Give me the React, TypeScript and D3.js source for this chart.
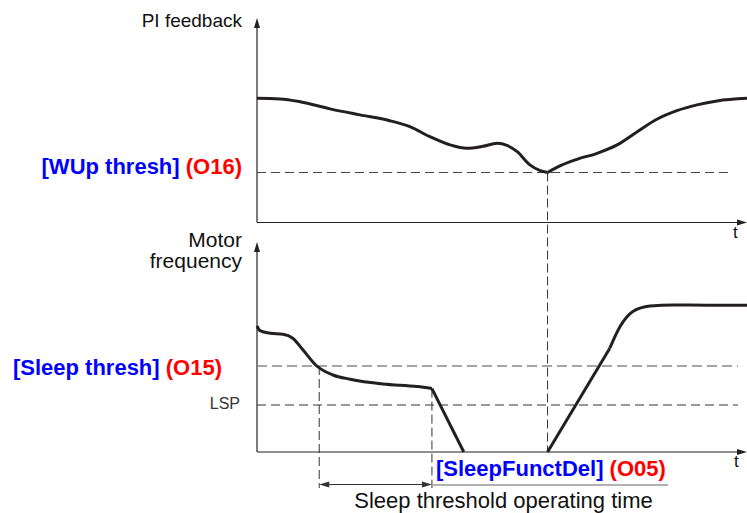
import * as d3 from "d3";

// PI feedback curve (time in % of window, value in % of panel height)
const piTime = [0, 4.7, 8.8, 14.9, 21.0, 27.1, 31.2, 35.3, 39.4, 42.8, 46.1, 49.0, 51.0, 53.1, 55.7, 57.8, 59.3, 61.2, 65.3, 69.4, 73.5, 77.6, 81.6, 85.7, 89.8, 93.9, 100];
const piValue = [62.1, 61.8, 60.4, 56.8, 53.8, 50.9, 47.9, 42.9, 38.8, 37.1, 38.1, 39.6, 38.6, 35.4, 28.8, 25.9, 25, 27.6, 31.6, 34.6, 38.8, 45.4, 51.6, 55.9, 58.8, 60.8, 62.1];

// motor frequency curve
const freqTime = [0, 0.6, 2.7, 5.3, 7.3, 9.4, 12.2, 15.5, 19.0, 25.7, 32.7, 35.7, 42.2, 59.3, 72.0, 74.1, 76.7, 80.2, 84.9, 91.8, 100];
const freqValue = [63, 60.7, 59.4, 58.9, 56.9, 51, 43, 38.5, 36.4, 34, 32.7, 31.7, 0, 0, 51.9, 62.7, 70.2, 73, 73.5, 73.4, 73.4];

const wakeThreshold = 25;
const sleepThreshold = 43;
const lspLevel = 23.5;
const sleepCrossTime = 12.7;
const rampDownTime = 35.7;
const stopTime = 42.2;
const wakeTime = 59.3;
const rampUpEndTime = 72.0;

const W = 747;
const H = 513;
const FONT = "'Liberation Sans', Arial, sans-serif";
const INK = "#231f20";
const BLUE = "#0000ff";
const RED = "#ff0000";

type Pt = [number, number];

export default function App() {
  const x = d3.scaleLinear().domain([0, 100]).range([257, 747]);
  const yTop = d3.scaleLinear().domain([0, 100]).range([222.5, 22.5]);
  const yBot = d3.scaleLinear().domain([0, 100]).range([452, 252]);

  const piPts: Pt[] = piTime.map((t, i) => [t, piValue[i]]);
  const freqPts: Pt[] = freqTime.map((t, i) => [t, freqValue[i]]);
  const pick = (pts: Pt[], a: number, b: number) => pts.filter(p => p[0] >= a && p[0] <= b);

  const topLine = d3.line<Pt>().x(d => x(d[0])).y(d => yTop(d[1])).curve(d3.curveMonotoneX);
  const botSmooth = d3.line<Pt>().x(d => x(d[0])).y(d => yBot(d[1])).curve(d3.curveMonotoneX);
  const botLinear = d3.line<Pt>().x(d => x(d[0])).y(d => yBot(d[1]));

  const piSegments = [pick(piPts, 0, wakeTime), pick(piPts, wakeTime, 100)].map(s => topLine(s));
  const freqSegments = [
    botSmooth(pick(freqPts, 0, rampDownTime)),
    botLinear(pick(freqPts, rampDownTime, stopTime)),
    botLinear(pick(freqPts, wakeTime, rampUpEndTime)),
    botSmooth(pick(freqPts, rampUpEndTime, 100)),
  ];

  const x0 = x(0);
  const topAxisY = yTop(0);
  const botAxisY = yBot(0);
  const upArrow = (ax: number, ay: number) => `M${ax},${ay}L${ax - 3},${ay + 10}L${ax + 3},${ay + 10}Z`;
  const rightArrow = (ax: number, ay: number) => `M${ax},${ay}L${ax - 10},${ay - 3}L${ax - 10},${ay + 3}Z`;
  const leftArrow = (ax: number, ay: number) => `M${ax},${ay}L${ax + 10},${ay - 3}L${ax + 10},${ay + 3}Z`;

  const xSleep = x(sleepCrossTime);
  const xRamp = x(rampDownTime);
  const xWake = x(wakeTime);
  const rampY = yBot(freqValue[freqTime.indexOf(rampDownTime)]);
  const spanY = 484.5;

  return (
    <svg width={W} height={H} style={{ position: "absolute", left: 0, top: 0, background: "#fff" }} fontFamily={FONT}>
      {/* axes */}
      <g stroke="#222" strokeWidth={1.2} fill="none">
        <line x1={x0} x2={x0} y1={topAxisY} y2={25} />
        <line x1={x0} x2={740} y1={topAxisY} y2={topAxisY} />
        <line x1={x0} x2={x0} y1={botAxisY} y2={249} />
        <line x1={x0} x2={740} y1={botAxisY} y2={botAxisY} />
      </g>
      <g fill="#222">
        <path d={upArrow(x0, 18)} />
        <path d={rightArrow(747, topAxisY)} />
        <path d={upArrow(x0, 242)} />
        <path d={rightArrow(747, botAxisY)} />
      </g>

      {/* threshold lines */}
      <line x1={x0} x2={733} y1={yTop(wakeThreshold)} y2={yTop(wakeThreshold)} stroke="#444" strokeWidth={1} strokeDasharray="9 5" />
      <line x1={x0} x2={738} y1={yBot(sleepThreshold)} y2={yBot(sleepThreshold)} stroke="#888" strokeWidth={1.3} strokeDasharray="10 5" />
      <line x1={x0} x2={738} y1={yBot(lspLevel)} y2={yBot(lspLevel)} stroke="#333" strokeWidth={1} strokeDasharray="9 5" />

      {/* event markers */}
      <g stroke="#333" strokeWidth={1} strokeDasharray="9 4">
        <line x1={xWake} x2={xWake} y1={yTop(wakeThreshold)} y2={botAxisY} />
        <line x1={xSleep} x2={xSleep} y1={yBot(sleepThreshold)} y2={488} />
        <line x1={xRamp} x2={xRamp} y1={rampY} y2={488} />
      </g>
      <line x1={xSleep + 8} x2={xRamp - 8} y1={spanY} y2={spanY} stroke="#333" strokeWidth={1} />
      <path d={leftArrow(xSleep, spanY)} fill="#333" />
      <path d={rightArrow(xRamp, spanY)} fill="#333" />
      <line x1={xRamp} x2={668} y1={485} y2={485} stroke="#999" strokeWidth={1.5} />

      {/* curves */}
      <g stroke={INK} strokeWidth={3} fill="none" strokeLinejoin="round">
        {piSegments.map((d, i) => <path key={"pi" + i} d={d ?? ""} />)}
        {freqSegments.map((d, i) => <path key={"f" + i} d={d ?? ""} />)}
      </g>

      {/* labels */}
      <g fill="#111" fontSize={21}>
        <text x={242} y={27} textAnchor="end" fontSize={19}>PI feedback</text>
        <text x={242} y={247} textAnchor="end">Motor</text>
        <text x={242} y={268} textAnchor="end">frequency</text>
        <text x={733} y={238} fontSize={17}>t</text>
        <text x={734} y={467} fontSize={17}>t</text>
        <text x={240} y={409} textAnchor="end" fontSize={16} fill="#333">LSP</text>
        <text x={503.5} y={508} textAnchor="middle" fontSize={22}>Sleep threshold operating time</text>
      </g>
      <g fontSize={22} fontWeight="bold">
        <text x={242} y={174} textAnchor="end">
          <tspan fill={BLUE}>[WUp thresh]</tspan>
          <tspan fill={RED}> (O16)</tspan>
        </text>
        <text x={222} y={375} textAnchor="end">
          <tspan fill={BLUE}>[Sleep thresh]</tspan>
          <tspan fill={RED}> (O15)</tspan>
        </text>
        <text x={436} y={476}>
          <tspan fill={BLUE}>[SleepFunctDel]</tspan>
          <tspan fill={RED}> (O05)</tspan>
        </text>
      </g>
    </svg>
  );
}
